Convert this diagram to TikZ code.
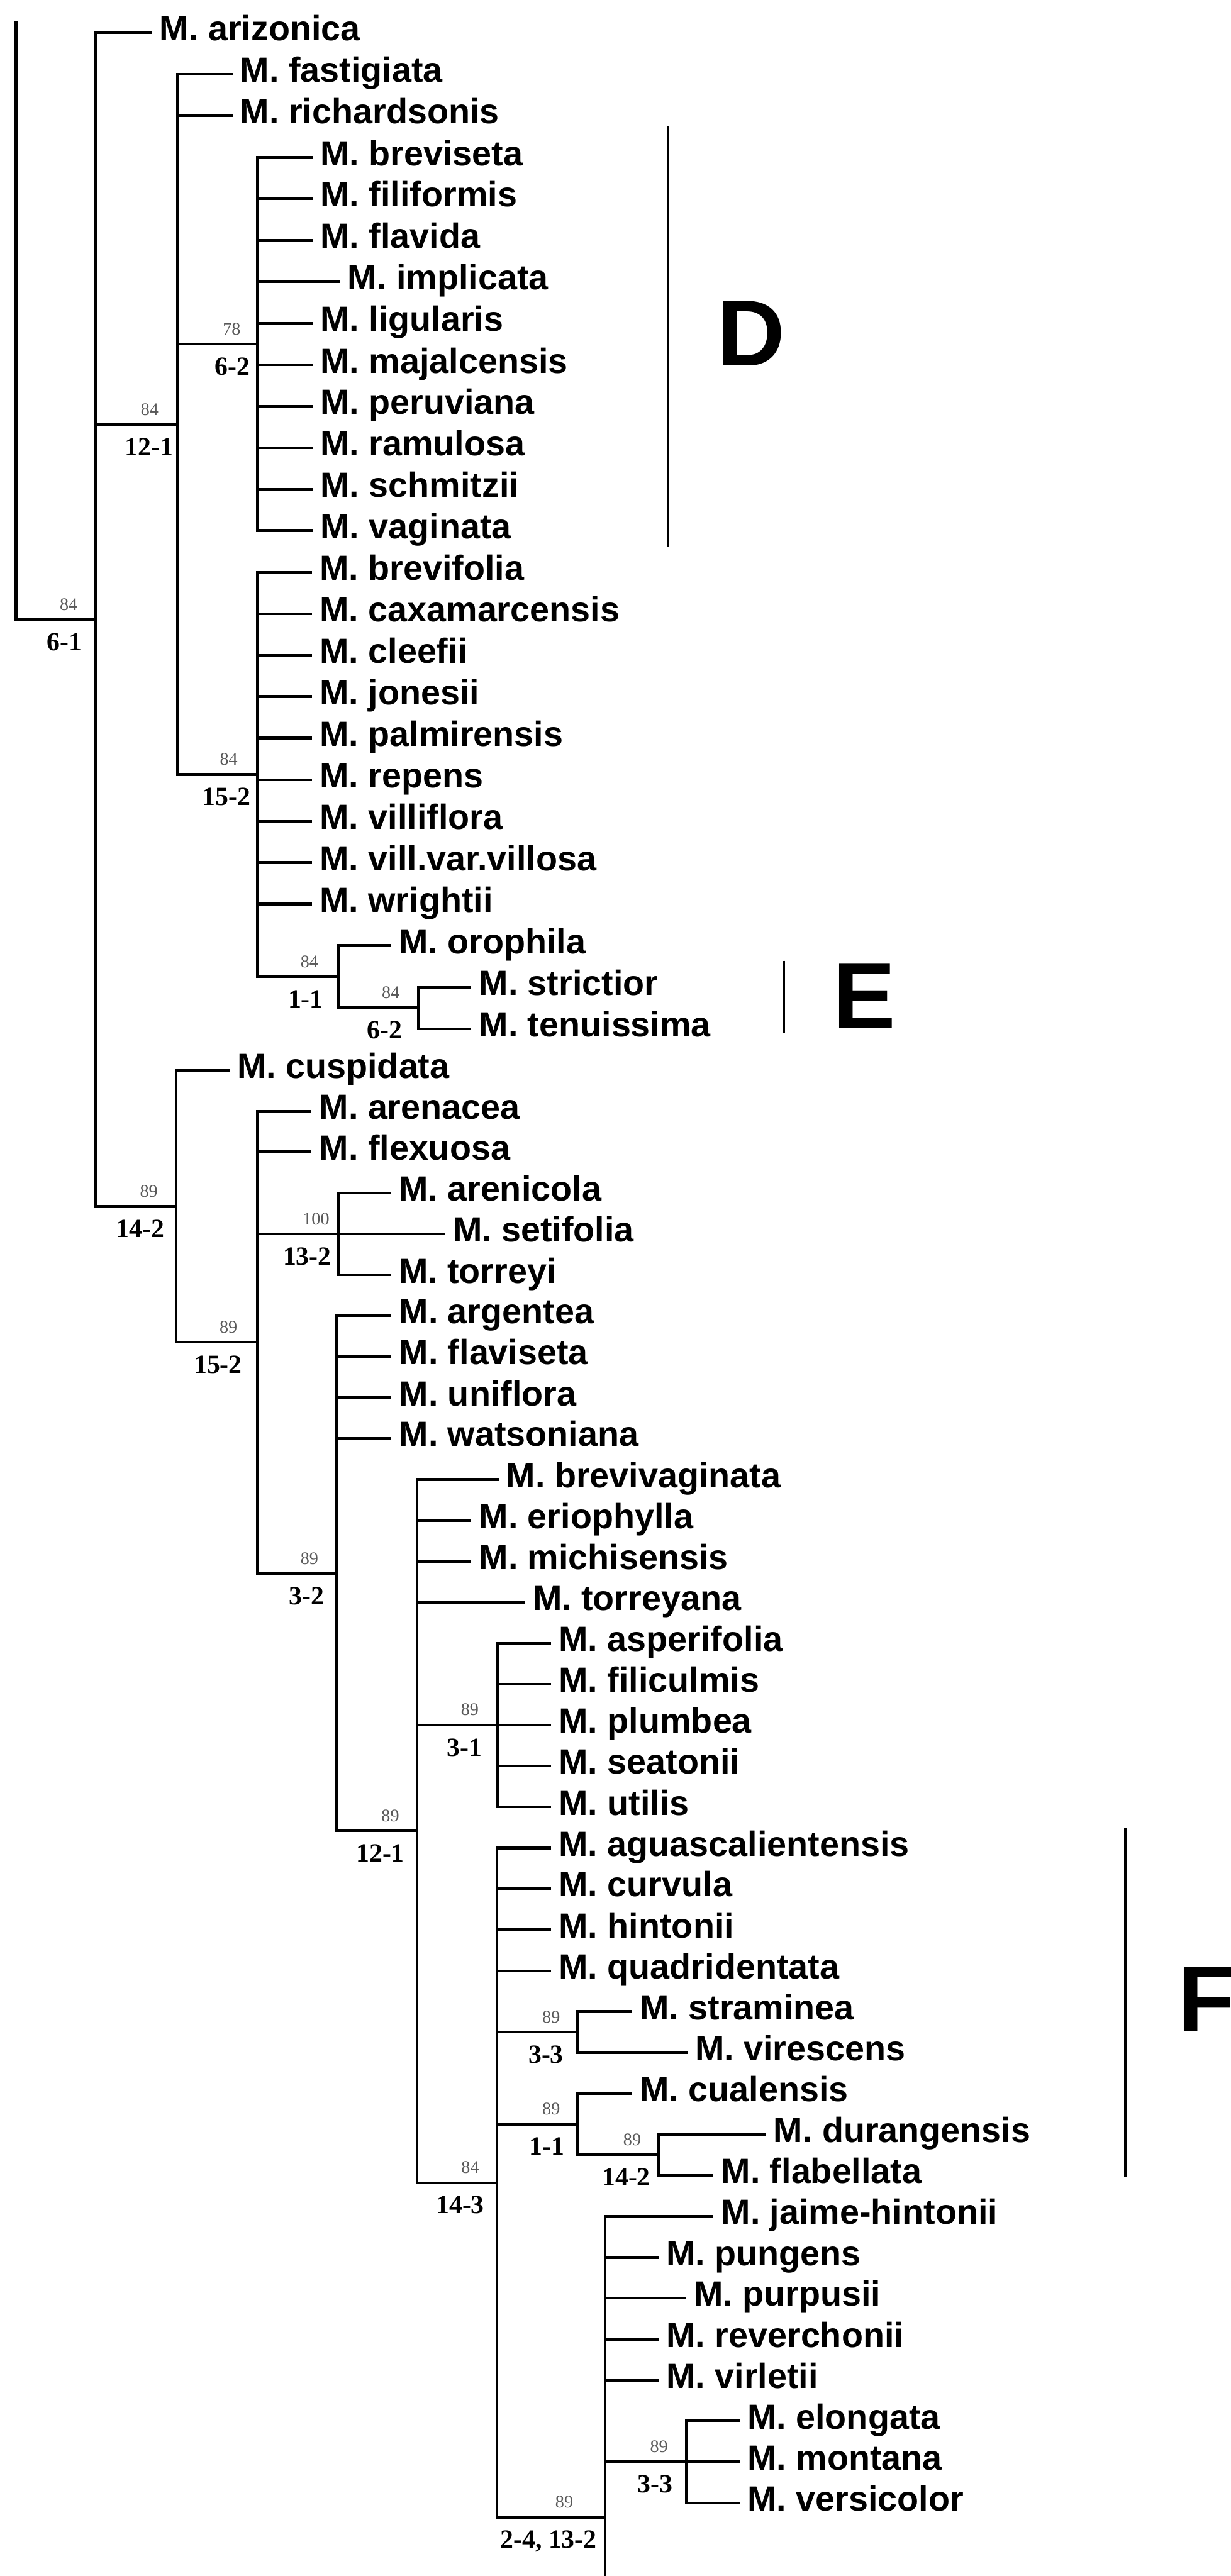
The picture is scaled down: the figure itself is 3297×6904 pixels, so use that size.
\documentclass[tikz,border=0pt]{standalone}
\usepackage{fontspec}
\setmainfont{Liberation Serif}
\setsansfont{Liberation Sans}
\tikzset{
  branch/.style={line width=2.1pt},
  cladebar/.style={line width=1.9pt},
  taxon/.style={anchor=west, inner xsep=0.2cm, inner ysep=0pt, text height=0.43cm, text depth=0pt,
    font=\sffamily\bfseries\fontsize{26.7}{30}\selectfont},
  bootval/.style={anchor=base, inner sep=0pt, text=black!65, font=\fontsize{13.5}{15}\selectfont},
  charval/.style={anchor=base, inner sep=0pt, font=\bfseries\fontsize{20}{24}\selectfont},
  grouplab/.style={anchor=base west, inner sep=0pt, font=\sffamily\bfseries\fontsize{71.5}{80}\selectfont}
}
\begin{document}
\begin{tikzpicture}[x=0.01cm, y=-0.01cm]
  \useasboundingbox (0,0) rectangle (3297,6904);

  % taxa
  \node[taxon] (arizonica) at (407,88) {M. arizonica};
  \node[taxon] (fastigiata) at (623,199) {M. fastigiata};
  \node[taxon] (richardsonis) at (623,310) {M. richardsonis};
  \node[taxon] (breviseta) at (838,422) {M. breviseta};
  \node[taxon] (filiformis) at (838,533) {M. filiformis};
  \node[taxon] (flavida) at (838,644) {M. flavida};
  \node[taxon] (implicata) at (911,755) {M. implicata};
  \node[taxon] (ligularis) at (838,866) {M. ligularis};
  \node[taxon] (majalcensis) at (838,978) {M. majalcensis};
  \node[taxon] (peruviana) at (838,1089) {M. peruviana};
  \node[taxon] (ramulosa) at (838,1200) {M. ramulosa};
  \node[taxon] (schmitzii) at (838,1311) {M. schmitzii};
  \node[taxon] (vaginata) at (838,1422) {M. vaginata};
  \node[taxon] (brevifolia) at (836,1534) {M. brevifolia};
  \node[taxon] (caxamarcensis) at (836,1645) {M. caxamarcensis};
  \node[taxon] (cleefii) at (836,1756) {M. cleefii};
  \node[taxon] (jonesii) at (836,1867) {M. jonesii};
  \node[taxon] (palmirensis) at (836,1978) {M. palmirensis};
  \node[taxon] (repens) at (836,2090) {M. repens};
  \node[taxon] (villiflora) at (836,2201) {M. villiflora};
  \node[taxon] (villosa) at (836,2312) {M. vill.var.villosa};
  \node[taxon] (wrightii) at (836,2423) {M. wrightii};
  \node[taxon] (orophila) at (1048,2534) {M. orophila};
  \node[taxon] (strictior) at (1263,2646) {M. strictior};
  \node[taxon] (tenuissima) at (1263,2757) {M. tenuissima};
  \node[taxon] (cuspidata) at (615,2868) {M. cuspidata};
  \node[taxon] (arenacea) at (835,2978) {M. arenacea};
  \node[taxon] (flexuosa) at (835,3087) {M. flexuosa};
  \node[taxon] (arenicola) at (1048,3197) {M. arenicola};
  \node[taxon] (setifolia) at (1193,3307) {M. setifolia};
  \node[taxon] (torreyi) at (1048,3417) {M. torreyi};
  \node[taxon] (argentea) at (1049,3526) {M. argentea};
  \node[taxon] (flaviseta) at (1049,3636) {M. flaviseta};
  \node[taxon] (uniflora) at (1049,3746) {M. uniflora};
  \node[taxon] (watsoniana) at (1049,3855) {M. watsoniana};
  \node[taxon] (brevivaginata) at (1336,3965) {M. brevivaginata};
  \node[taxon] (eriophylla) at (1263,4075) {M. eriophylla};
  \node[taxon] (michisensis) at (1263,4185) {M. michisensis};
  \node[taxon] (torreyana) at (1407,4294) {M. torreyana};
  \node[taxon] (asperifolia) at (1477,4404) {M. asperifolia};
  \node[taxon] (filiculmis) at (1477,4514) {M. filiculmis};
  \node[taxon] (plumbea) at (1477,4623) {M. plumbea};
  \node[taxon] (seatonii) at (1477,4733) {M. seatonii};
  \node[taxon] (utilis) at (1477,4843) {M. utilis};
  \node[taxon] (aguascalientensis) at (1477,4953) {M. aguascalientensis};
  \node[taxon] (curvula) at (1477,5062) {M. curvula};
  \node[taxon] (hintonii) at (1477,5172) {M. hintonii};
  \node[taxon] (quadridentata) at (1477,5282) {M. quadridentata};
  \node[taxon] (straminea) at (1694,5391) {M. straminea};
  \node[taxon] (virescens) at (1842,5501) {M. virescens};
  \node[taxon] (cualensis) at (1694,5611) {M. cualensis};
  \node[taxon] (durangensis) at (2052,5720) {M. durangensis};
  \node[taxon] (flabellata) at (1912,5830) {M. flabellata};
  \node[taxon] (jaimehintonii) at (1912,5940) {M. jaime-hintonii};
  \node[taxon] (pungens) at (1765,6050) {M. pungens};
  \node[taxon] (purpusii) at (1839,6159) {M. purpusii};
  \node[taxon] (reverchonii) at (1765,6269) {M. reverchonii};
  \node[taxon] (virletii) at (1765,6379) {M. virletii};
  \node[taxon] (elongata) at (1982,6488) {M. elongata};
  \node[taxon] (montana) at (1982,6598) {M. montana};
  \node[taxon] (versicolor) at (1982,6708) {M. versicolor};

  % inner nodes
  \coordinate (cuttop) at (43,57);
  \coordinate (n0) at (257,1660);
  \coordinate (n121a) at (476,1138);
  \coordinate (nD) at (690,922);
  \coordinate (n152a) at (690,2076);
  \coordinate (n11a) at (906,2618);
  \coordinate (nE) at (1121,2701);
  \coordinate (n142a) at (472,3233);
  \coordinate (n152b) at (689,3597);
  \coordinate (n132) at (906,3307);
  \coordinate (n32) at (901,4217);
  \coordinate (n121b) at (1117,4907);
  \coordinate (n31) at (1333,4623);
  \coordinate (n143) at (1332,5850);
  \coordinate (n33a) at (1548,5446);
  \coordinate (n11b) at (1548,5693);
  \coordinate (n142b) at (1765,5775);
  \coordinate (n24) at (1621,6746);
  \coordinate (n33b) at (1839,6598);
  \coordinate (cutbot) at (1621,6904);

  % branches
  \draw[branch] (cuttop) |- (n0);
  \draw[branch] (n0) |- (arizonica) (n0) |- (n121a) (n0) |- (n142a);
  \draw[branch] (n121a) |- (fastigiata) (n121a) |- (richardsonis) (n121a) |- (nD) (n121a) |- (n152a);
  \draw[branch] (nD) |- (breviseta) (nD) |- (filiformis) (nD) |- (flavida) (nD) |- (implicata)
    (nD) |- (ligularis) (nD) |- (majalcensis) (nD) |- (peruviana) (nD) |- (ramulosa)
    (nD) |- (schmitzii) (nD) |- (vaginata);
  \draw[branch] (n152a) |- (brevifolia) (n152a) |- (caxamarcensis) (n152a) |- (cleefii)
    (n152a) |- (jonesii) (n152a) |- (palmirensis) (n152a) |- (repens) (n152a) |- (villiflora)
    (n152a) |- (villosa) (n152a) |- (wrightii) (n152a) |- (n11a);
  \draw[branch] (n11a) |- (orophila) (n11a) |- (nE);
  \draw[branch] (nE) |- (strictior) (nE) |- (tenuissima);
  \draw[branch] (n142a) |- (cuspidata) (n142a) |- (n152b);
  \draw[branch] (n152b) |- (arenacea) (n152b) |- (flexuosa) (n152b) |- (n132) (n152b) |- (n32);
  \draw[branch] (n132) |- (arenicola) (n132) |- (setifolia) (n132) |- (torreyi);
  \draw[branch] (n32) |- (argentea) (n32) |- (flaviseta) (n32) |- (uniflora) (n32) |- (watsoniana)
    (n32) |- (n121b);
  \draw[branch] (n121b) |- (brevivaginata) (n121b) |- (eriophylla) (n121b) |- (michisensis)
    (n121b) |- (torreyana) (n121b) |- (n31) (n121b) |- (n143);
  \draw[branch] (n31) |- (asperifolia) (n31) |- (filiculmis) (n31) |- (plumbea) (n31) |- (seatonii)
    (n31) |- (utilis);
  \draw[branch] (n143) |- (aguascalientensis) (n143) |- (curvula) (n143) |- (hintonii)
    (n143) |- (quadridentata) (n143) |- (n33a) (n143) |- (n11b) (n143) |- (n24);
  \draw[branch] (n33a) |- (straminea) (n33a) |- (virescens);
  \draw[branch] (n11b) |- (cualensis) (n11b) |- (n142b);
  \draw[branch] (n142b) |- (durangensis) (n142b) |- (flabellata);
  \draw[branch] (n24) |- (jaimehintonii) (n24) |- (pungens) (n24) |- (purpusii) (n24) |- (reverchonii)
    (n24) |- (virletii) (n24) |- (n33b) (n24) -- (cutbot);
  \draw[branch] (n33b) |- (elongata) (n33b) |- (montana) (n33b) |- (versicolor);

  % support and character labels
  \node[bootval] (s0) at (184,1635) {84};
  \node[charval] (c0) at (173,1743) {6-1};
  \node[bootval] (s121a) at (401,1113) {84};
  \node[charval] (c121a) at (399,1221) {12-1};
  \node[bootval] (sD) at (621,897) {78};
  \node[charval] (cD) at (623,1005) {6-2};
  \node[bootval] (s152a) at (613,2051) {84};
  \node[charval] (c152a) at (607,2159) {15-2};
  \node[bootval] (s11a) at (829,2593) {84};
  \node[charval] (c11a) at (819,2701) {1-1};
  \node[bootval] (sE) at (1047,2676) {84};
  \node[charval] (cE) at (1031,2784) {6-2};
  \node[bootval] (s142a) at (399,3208) {89};
  \node[charval] (c142a) at (376,3316) {14-2};
  \node[bootval] (s152b) at (612,3572) {89};
  \node[charval] (c152b) at (584,3680) {15-2};
  \node[bootval] (s132) at (847,3282) {100};
  \node[charval] (c132) at (823,3390) {13-2};
  \node[bootval] (s32) at (829,4192) {89};
  \node[charval] (c32) at (821,4300) {3-2};
  \node[bootval] (s121b) at (1046,4882) {89};
  \node[charval] (c121b) at (1019,4990) {12-1};
  \node[bootval] (s31) at (1259,4598) {89};
  \node[charval] (c31) at (1245,4706) {3-1};
  \node[bootval] (s143) at (1260,5825) {84};
  \node[charval] (c143) at (1233,5933) {14-3};
  \node[bootval] (s33a) at (1477,5421) {89};
  \node[charval] (c33a) at (1463,5529) {3-3};
  \node[bootval] (s11b) at (1477,5668) {89};
  \node[charval] (c11b) at (1466,5776) {1-1};
  \node[bootval] (s142b) at (1694,5750) {89};
  \node[charval] (c142b) at (1678,5858) {14-2};
  \node[bootval] (s24) at (1512,6721) {89};
  \node[charval] (c24) at (1470,6829) {2-4, 13-2};
  \node[bootval] (s33b) at (1766,6573) {89};
  \node[charval] (c33b) at (1756,6681) {3-3};

  % groups
  \draw[cladebar] (1790,337) -- (1790,1465);
  \node[grouplab] (grpD) at (1922,980) {D};
  \draw[cladebar] (2101,2575) -- (2101,2767);
  \node[grouplab] (grpE) at (2231,2757) {E};
  \draw[cladebar] (3015,4899) -- (3015,5836);
  \node[grouplab] (grpF) at (3156,5445) {F};
\end{tikzpicture}
\end{document}
